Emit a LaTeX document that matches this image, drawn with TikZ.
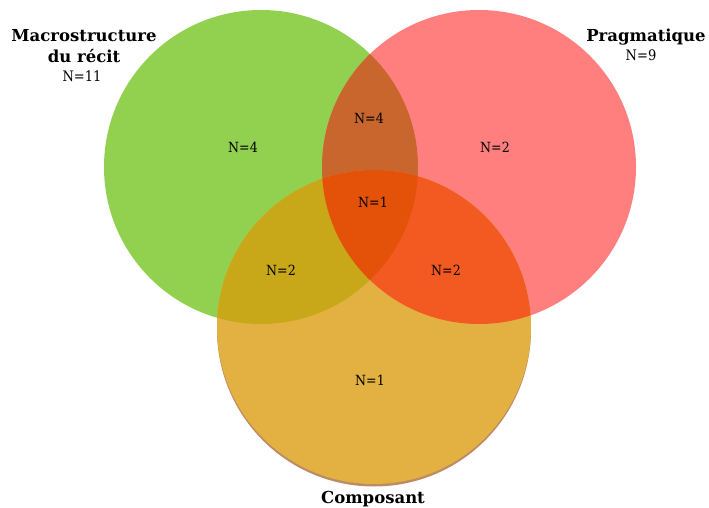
\documentclass[tikz,border=0pt]{standalone}
\usepackage{fontspec}
\setmainfont{DejaVu Serif}
\newfontfamily\condfont{DejaVu Serif Condensed}
\begin{document}
\begin{tikzpicture}[x=1pt,y=-1pt,
  title/.style={font=\bfseries\fontsize{16.5}{21}\selectfont, align=center, inner sep=0pt},
  sub/.style={font=\condfont\fontsize{14.5}{15}\selectfont, inner sep=0pt},
  lab/.style={font=\condfont\fontsize{14}{15}\selectfont, inner sep=0pt}]
\definecolor{cG}{RGB}{146,208,80}
\definecolor{cR}{RGB}{255,127,127}
\definecolor{cO}{RGB}{227,176,66}
\definecolor{cGR}{RGB}{200,102,46}
\definecolor{cGO}{RGB}{200,168,24}
\definecolor{cRO}{RGB}{242,90,34}
\definecolor{cGRO}{RGB}{228,82,10}
\definecolor{rim}{RGB}{190,140,100}
\useasboundingbox (0,0) rectangle (709,508);
\def\G{(261,167) circle (157)}
\def\R{(479,167) circle (157)}
\def\O{(374,327) circle (157)}
% rim shadow of bottom circle
\fill[rim] (374,329.5) circle (157);
\fill[cG] \G;
\fill[cR] \R;
\fill[cO] \O;
\begin{scope}\clip \G; \fill[cGR] \R; \end{scope}
\begin{scope}\clip \G; \fill[cGO] \O; \end{scope}
\begin{scope}\clip \R; \fill[cRO] \O; \end{scope}
\begin{scope}\clip \G; \clip \R; \fill[cGRO] \O; \end{scope}
% titles
\node[title] (tM) at (84,46) {Macrostructure\\du récit};
\node[sub] (nM) at (82,76) {N=11};
\node[title] (tP) at (646,37) {Pragmatique};
\node[sub] (nP) at (641,55) {N=9};
\node[title] (tC) at (373,499) {Composant};
% region labels
\node[lab] (g) at (243,147) {N=4};
\node[lab] (gr) at (369,118) {N=4};
\node[lab] (r) at (495,147) {N=2};
\node[lab] (gro) at (373,202) {N=1};
\node[lab] (go) at (281,270) {N=2};
\node[lab] (ro) at (446,270) {N=2};
\node[lab] (o) at (370,380) {N=1};
\end{tikzpicture}
\end{document}
